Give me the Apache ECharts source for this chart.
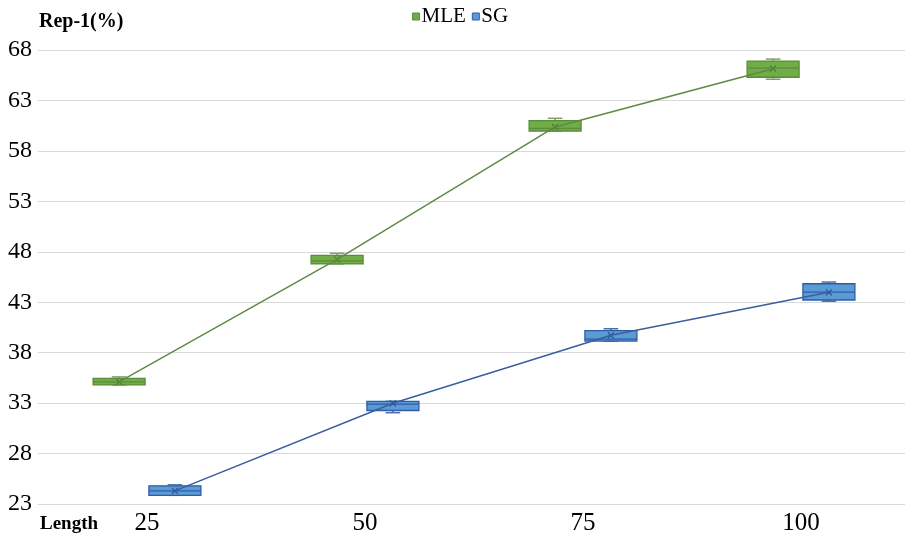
<!DOCTYPE html>
<html>
<head>
<meta charset="utf-8">
<script src="https://cdn.jsdelivr.net/npm/echarts@6/dist/echarts.min.js"></script>
<style>html,body{margin:0;padding:0;background:#fff}#c{width:905px;height:535px}</style>
</head>
<body>
<div id="c"></div>
<script>
// ---- data ----
const categories = ['25', '50', '75', '100'];
const seriesNames = ['MLE', 'SG'];
// [min, q1, median, q3, max]
const mleMin    = [34.8, 46.8, 59.97, 65.1];
const mleQ1     = [34.8, 46.8, 59.97, 65.3];
const mleMedian = [35.1, 47.1, 60.24, 66.2];
const mleQ3     = [35.45, 47.65, 61.0, 66.9];
const mleMax    = [35.6, 47.85, 61.23, 67.1];
const mleMean   = [35.1, 47.25, 60.37, 66.15];
const sgMin     = [23.86, 32.05, 39.15, 43.1];
const sgQ1      = [23.86, 32.27, 39.15, 43.22];
const sgMedian  = [24.3, 32.9, 39.35, 44.0];
const sgQ3      = [24.8, 33.18, 40.18, 44.83];
const sgMax     = [24.9, 33.18, 40.37, 45.0];
const sgMean    = [24.3, 32.98, 39.72, 43.98];
const yMin = 23, yMax = 68, yStep = 5;

// ---- layout/style ----
const OFF = 0.128, BOX_W = 0.2385, CAP_W = 0.067;
const FONT = '"Liberation Serif", "Times New Roman", serif';
const styles = {
  MLE: {fill: '#70AD47', border: '#5B8C3A', whisk: '#7F9F6C', line: '#5E8A42', mean: '#4E7A32', off: -OFF},
  SG:  {fill: '#5B9BD5', border: '#2F5CA6', whisk: '#4A6FA8', line: '#3A5E9E', mean: '#2A4F8F', off: OFF}
};

function build(mn, q1, md, q3, mx, mean) {
  return categories.map((c, i) => [i, mn[i], q1[i], md[i], q3[i], mx[i], mean[i]]);
}

function makeRender(st) {
  return function (params, api) {
    const x = api.value(0) + st.off;
    const w = api.size([BOX_W, 0])[0];
    const cw = api.size([CAP_W, 0])[0];
    const pMin = api.coord([x, api.value(1)]);
    const pQ1 = api.coord([x, api.value(2)]);
    const pMd = api.coord([x, api.value(3)]);
    const pQ3 = api.coord([x, api.value(4)]);
    const pMax = api.coord([x, api.value(5)]);
    const pMean = api.coord([x, api.value(6)]);
    const cx = pQ1[0];
    const ws = {stroke: st.whisk, lineWidth: 1.5};
    const children = [
      {type: 'line', shape: {x1: cx, y1: pQ3[1], x2: cx, y2: pMax[1]}, style: ws},
      {type: 'line', shape: {x1: cx - cw / 2, y1: pMax[1], x2: cx + cw / 2, y2: pMax[1]}, style: ws},
      {type: 'line', shape: {x1: cx, y1: pQ1[1], x2: cx, y2: pMin[1]}, style: ws},
      {type: 'line', shape: {x1: cx - cw / 2, y1: pMin[1], x2: cx + cw / 2, y2: pMin[1]}, style: ws},
      {type: 'rect', shape: {x: cx - w / 2, y: pQ3[1], width: w, height: Math.max(pQ1[1] - pQ3[1], 1)},
        style: {fill: st.fill, stroke: st.border, lineWidth: 1.3}},
      {type: 'line', shape: {x1: cx - w / 2, y1: pMd[1], x2: cx + w / 2, y2: pMd[1]},
        style: {stroke: st.border, lineWidth: 1.2}},
      {type: 'line', shape: {x1: pMean[0] - 3, y1: pMean[1] - 3, x2: pMean[0] + 3, y2: pMean[1] + 3},
        style: {stroke: st.mean, lineWidth: 1.2}},
      {type: 'line', shape: {x1: pMean[0] - 3, y1: pMean[1] + 3, x2: pMean[0] + 3, y2: pMean[1] - 3},
        style: {stroke: st.mean, lineWidth: 1.2}}
    ];
    return {type: 'group', children};
  };
}

const mleData = build(mleMin, mleQ1, mleMedian, mleQ3, mleMax, mleMean);
const sgData = build(sgMin, sgQ1, sgMedian, sgQ3, sgMax, sgMean);

const chart = echarts.init(document.getElementById('c'), null, {renderer: 'canvas'});
chart.setOption({
  animation: false,
  backgroundColor: '#fff',
  grid: {left: 38, width: 872, top: 50, bottom: 31, containLabel: false, outerBoundsMode: 'none'},
  legend: {
    data: [
      {name: 'MLE', icon: 'rect', itemStyle: {color: styles.MLE.fill, borderColor: styles.MLE.border, borderWidth: 1}},
      {name: 'SG', icon: 'rect', itemStyle: {color: styles.SG.fill, borderColor: styles.SG.border, borderWidth: 1}}
    ],
    left: 412, top: 6, padding: 0,
    itemWidth: 7, itemHeight: 7, itemGap: 6,
    textStyle: {fontFamily: FONT, fontSize: 21, color: '#000', padding: [0, 0, 0, -3]}
  },
  xAxis: [
    {
      type: 'category', data: categories, boundaryGap: true,
      axisLine: {show: true, lineStyle: {color: '#d9d9d9', width: 1}},
      axisTick: {show: false},
      axisLabel: {fontFamily: FONT, fontSize: 25, color: '#000', margin: 7},
      splitLine: {show: false}
    },
    {
      type: 'value', min: -0.5, max: 3.5, show: false,
      splitLine: {show: false}
    }
  ],
  yAxis: {
    type: 'value', min: yMin, max: yMax, interval: yStep,
    axisLine: {show: false}, axisTick: {show: false},
    axisLabel: {fontFamily: FONT, fontSize: 24, color: '#000', margin: 6},
    splitLine: {show: true, lineStyle: {color: '#d9d9d9', width: 1}}
  },
  graphic: [
    {type: 'text', left: 39, top: 12, style: {text: 'Rep-1(%)', font: 'bold 20px ' + FONT, fill: '#000'}},
    {type: 'text', left: 40, top: 515, style: {text: 'Length', font: 'bold 19px ' + FONT, fill: '#000'}}
  ],
  series: [
    {
      name: 'MLE', type: 'custom', xAxisIndex: 1, data: mleData,
      encode: {x: 0, y: [1, 2, 3, 4, 5]},
      itemStyle: {color: styles.MLE.fill, borderColor: styles.MLE.border},
      renderItem: makeRender(styles.MLE), z: 2
    },
    {
      name: 'SG', type: 'custom', xAxisIndex: 1, data: sgData,
      encode: {x: 0, y: [1, 2, 3, 4, 5]},
      itemStyle: {color: styles.SG.fill, borderColor: styles.SG.border},
      renderItem: makeRender(styles.SG), z: 2
    },
    {
      name: 'MLE mean', type: 'line', xAxisIndex: 1,
      data: mleMean.map((v, i) => [i - OFF, v]),
      symbol: 'none', lineStyle: {color: styles.MLE.line, width: 1.5}, z: 3, silent: true
    },
    {
      name: 'SG mean', type: 'line', xAxisIndex: 1,
      data: sgMean.map((v, i) => [i + OFF, v]),
      symbol: 'none', lineStyle: {color: styles.SG.line, width: 1.5}, z: 3, silent: true
    }
  ]
});
</script>
</body>
</html>
